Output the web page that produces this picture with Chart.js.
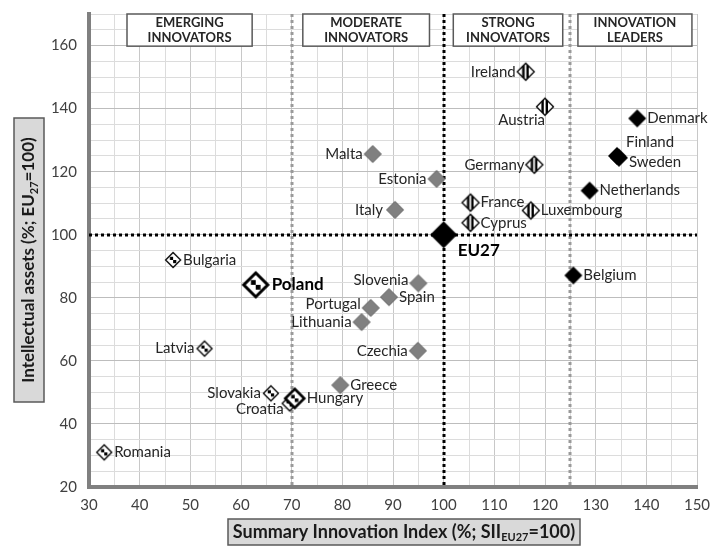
<!DOCTYPE html>
<html>
<head>
<meta charset="utf-8">
<script src="https://cdn.jsdelivr.net/npm/chart.js@4"></script>
<style>
  body { margin: 0; background: #ffffff; }
  #wrap { width: 713px; height: 548px; }
</style>
</head>
<body>
<div id="wrap"><canvas id="grafico" width="713" height="548"></canvas></div>
<script>
// dados
const leaders = ['Denmark', 'Finland', 'Sweden', 'Netherlands', 'Belgium']
const leaders_sii = [138.2, 134.2, 134.6, 128.8, 125.6]
const leaders_ia = [136.9, 125.0, 124.4, 114.0, 87.1]

const strong = ['Ireland', 'Austria', 'Germany', 'France', 'Luxembourg', 'Cyprus']
const strong_sii = [116.2, 120.0, 117.9, 105.3, 117.2, 105.3]
const strong_ia = [151.7, 140.6, 122.2, 110.2, 107.7, 103.8]

const moderate = ['Malta', 'Estonia', 'Italy', 'Slovenia', 'Spain', 'Portugal', 'Lithuania', 'Czechia', 'Greece']
const moderate_sii = [86.0, 98.6, 90.4, 95.0, 89.2, 85.6, 83.8, 94.9, 79.6]
const moderate_ia = [125.6, 117.7, 107.9, 84.6, 80.2, 76.8, 72.3, 63.2, 52.3]

const emerging = ['Bulgaria', 'Poland', 'Latvia', 'Slovakia', 'Croatia', 'Hungary', 'Romania']
const emerging_sii = [46.6, 62.9, 52.8, 65.9, 69.6, 70.6, 33.0]
const emerging_ia = [92.0, 84.1, 63.9, 49.7, 46.5, 48.1, 31.0]

const eu = ['EU27']
const eu_sii = [100]
const eu_ia = [100]

const grupos = [
    ['EMERGING', 'INNOVATORS', 37.5, 62.2],
    ['MODERATE', 'INNOVATORS', 72.2, 97.2],
    ['STRONG', 'INNOVATORS', 101.9, 123.5],
    ['INNOVATION', 'LEADERS', 126.5, 149]
]
const limites_cinza = [70, 125]
const linha_eu = 100

// posicao dos rotulos: lado, dx, dy
const rotulos = {
    Denmark: ['r', 0, 0], Finland: ['r', -1, -14], Sweden: ['r', 0, 4], Netherlands: ['r', 0, 0], Belgium: ['r', 0, 0],
    Ireland: ['l', 0, 0], Austria: ['l', 10, 13], Germany: ['l', 0, 0], France: ['r', 0, 0], Luxembourg: ['r', 0, 0], Cyprus: ['r', 0, 0],
    Malta: ['l', 0, 0], Estonia: ['l', 0, 0], Italy: ['l', -2, 0], Slovenia: ['l', 0, -3], Spain: ['r', 0, 0],
    Portugal: ['l', 0, -4], Lithuania: ['l', 0, 0], Czechia: ['l', 0, 0], Greece: ['r', 0, 0],
    Bulgaria: ['r', 0, 0], Poland: ['r', 2, 0], Latvia: ['l', 0, 0], Slovakia: ['l', 0, 0], Croatia: ['l', 4, 6],
    Hungary: ['r', 2, 0], Romania: ['r', 0, 0], EU27: ['r', 0, 16]
}

const FONTE = 'Lato, "Open Sans", sans-serif'

function losango(ctx, c, r) {
    ctx.beginPath()
    ctx.moveTo(c, c - r)
    ctx.lineTo(c + r, c)
    ctx.lineTo(c, c + r)
    ctx.lineTo(c - r, c)
    ctx.closePath()
}

function novoCanvas(size) {
    const cv = document.createElement('canvas')
    cv.width = size
    cv.height = size
    return cv
}

function marcadorCheio(size, r, cor, borda) {
    const cv = novoCanvas(size)
    const ctx = cv.getContext('2d')
    const c = size / 2
    losango(ctx, c, r)
    ctx.fillStyle = cor
    ctx.fill()
    if (borda) {
        ctx.strokeStyle = borda
        ctx.lineWidth = 1
        ctx.stroke()
    }
    return cv
}

function marcadorListrado(size, r) {
    const cv = novoCanvas(size)
    const ctx = cv.getContext('2d')
    const c = size / 2
    losango(ctx, c, r)
    ctx.fillStyle = '#ffffff'
    ctx.fill()
    ctx.save()
    ctx.clip()
    ctx.fillStyle = '#000000'
    ctx.fillRect(c - 3.6, 0, 2.4, size)
    ctx.fillRect(c + 0.6, 0, 2.4, size)
    ctx.restore()
    losango(ctx, c, r)
    ctx.strokeStyle = '#000000'
    ctx.lineWidth = 1.3
    ctx.stroke()
    return cv
}

function marcadorXadrez(size, r, lw, ri) {
    const cv = novoCanvas(size)
    const ctx = cv.getContext('2d')
    const c = size / 2
    losango(ctx, c, r)
    ctx.fillStyle = '#ffffff'
    ctx.fill()
    ctx.fillStyle = '#000000'
    // quadrantes escuros do centro
    ctx.fillRect(c - ri, c - ri, ri, ri)
    ctx.fillRect(c, c, ri, ri)
    losango(ctx, c, r)
    ctx.strokeStyle = '#000000'
    ctx.lineWidth = lw
    ctx.stroke()
    return cv
}

const m_leader = marcadorCheio(22, 9, '#000000')
const m_eu = marcadorCheio(30, 13.5, '#000000')
const m_moderate = marcadorCheio(22, 8.5, '#808080', '#5f5f5f')
const m_strong = marcadorListrado(22, 8.5)
const m_emerging = marcadorXadrez(20, 7.5, 1.3, 3.2)
const m_poland = marcadorXadrez(30, 12, 3, 4.8)
const m_hungary = marcadorXadrez(24, 9.5, 2.6, 3.6)

function pontos(xs, ys) {
    return xs.map((v, i) => ({ x: v, y: ys[i] }))
}

const data_grafico = {
    datasets: [
        { label: 'Moderate', nomes: moderate, data: pontos(moderate_sii, moderate_ia), pointStyle: m_moderate },
        { label: 'Strong', nomes: strong, data: pontos(strong_sii, strong_ia), pointStyle: m_strong },
        { label: 'Leaders', nomes: leaders, data: pontos(leaders_sii, leaders_ia), pointStyle: m_leader },
        {
            label: 'Emerging', nomes: emerging, data: pontos(emerging_sii, emerging_ia),
            pointStyle: (ctx) => {
                const n = emerging[ctx.dataIndex]
                if (n === 'Poland') return m_poland
                if (n === 'Hungary') return m_hungary
                return m_emerging
            }
        },
        { label: 'EU27', nomes: eu, data: pontos(eu_sii, eu_ia), pointStyle: m_eu }
    ]
}

const fundoPlugin = {
    id: 'fundo',
    beforeDatasetsDraw(chart) {
        const ctx = chart.ctx
        const a = chart.chartArea
        const sx = chart.scales.x
        const sy = chart.scales.y
        ctx.save()
        // linhas tracejadas
        ctx.lineWidth = 3
        ctx.setLineDash([3, 3])
        ctx.strokeStyle = '#9a9a9a'
        limites_cinza.forEach(v => {
            const px = Math.round(sx.getPixelForValue(v))
            ctx.beginPath()
            ctx.moveTo(px, a.top)
            ctx.lineTo(px, a.bottom)
            ctx.stroke()
        })
        ctx.strokeStyle = '#000000'
        const px = Math.round(sx.getPixelForValue(linha_eu))
        ctx.beginPath()
        ctx.moveTo(px, a.top)
        ctx.lineTo(px, a.bottom)
        ctx.stroke()
        const py = Math.round(sy.getPixelForValue(linha_eu))
        ctx.beginPath()
        ctx.moveTo(a.left, py)
        ctx.lineTo(a.right, py)
        ctx.stroke()
        ctx.setLineDash([])
        // caixas dos grupos
        const yt = a.top
        const yb = sy.getPixelForValue(159.8)
        grupos.forEach(g => {
            const x0 = sx.getPixelForValue(g[2])
            const x1 = sx.getPixelForValue(g[3])
            ctx.fillStyle = '#ffffff'
            ctx.fillRect(x0, yt, x1 - x0, yb - yt)
            ctx.strokeStyle = '#595959'
            ctx.lineWidth = 1.5
            ctx.strokeRect(x0, yt, x1 - x0, yb - yt)
            ctx.fillStyle = '#262626'
            ctx.font = 'bold 13px ' + FONTE
            ctx.textAlign = 'center'
            ctx.textBaseline = 'middle'
            const cx = (x0 + x1) / 2
            ctx.fillText(g[0], cx, yt + 9)
            ctx.fillText(g[1], cx, yt + 24)
        })
        ctx.restore()
    },
    afterDatasetsDraw(chart) {
        const ctx = chart.ctx
        ctx.save()
        ctx.textBaseline = 'middle'
        chart.data.datasets.forEach((ds, di) => {
            const meta = chart.getDatasetMeta(di)
            meta.data.forEach((el, i) => {
                const nome = ds.nomes[i]
                const r = rotulos[nome] || ['r', 0, 0]
                const negrito = nome === 'Poland' || nome === 'EU27'
                ctx.font = (negrito ? 'bold 17px ' : '15px ') + FONTE
                ctx.fillStyle = negrito ? '#000000' : '#262626'
                const gap = negrito ? 14 : 10
                if (r[0] === 'l') {
                    ctx.textAlign = 'right'
                    ctx.fillText(nome, el.x - gap + r[1], el.y + r[2])
                } else {
                    ctx.textAlign = 'left'
                    ctx.fillText(nome, el.x + gap + r[1], el.y + r[2])
                }
            })
        })
        ctx.restore()
    },
    afterDraw(chart) {
        const ctx = chart.ctx
        ctx.save()
        // titulo eixo x
        caixaTitulo(ctx, 228, 519, 352, 26, 'Summary Innovation Index (%; SII', 'EU27', '=100)', 18)
        // titulo eixo y
        ctx.translate(29, 260)
        ctx.rotate(-Math.PI / 2)
        caixaTitulo(ctx, -142, -15, 284, 30, 'Intellectual assets (%; EU', '27', '=100)', 17)
        ctx.restore()
    }
}

function caixaTitulo(ctx, x, y, w, h, t1, sub, t2, tam) {
    ctx.fillStyle = '#d9d9d9'
    ctx.fillRect(x, y, w, h)
    ctx.strokeStyle = '#595959'
    ctx.lineWidth = 1.5
    ctx.strokeRect(x, y, w, h)
    const fMain = 'bold ' + tam + 'px ' + FONTE
    const fSub = 'bold 11px ' + FONTE
    ctx.font = fMain
    const w1 = ctx.measureText(t1).width
    const w3 = ctx.measureText(t2).width
    ctx.font = fSub
    const w2 = ctx.measureText(sub).width
    let sx = x + w / 2 - (w1 + w2 + w3) / 2
    const cy = y + h / 2
    ctx.fillStyle = '#1a1a1a'
    ctx.textAlign = 'left'
    ctx.textBaseline = 'middle'
    ctx.font = fMain
    ctx.fillText(t1, sx, cy)
    sx += w1
    ctx.font = fSub
    ctx.fillText(sub, sx, cy + 5)
    sx += w2
    ctx.font = fMain
    ctx.fillText(t2, sx, cy)
}

const config_grafico = {
    type: 'scatter',
    data: data_grafico,
    options: {
        responsive: false,
        animation: false,
        layout: {
            padding: { left: 0, right: 16, top: 14, bottom: 0 }
        },
        plugins: {
            legend: { display: false },
            tooltip: { enabled: false }
        },
        scales: {
            x: {
                type: 'linear',
                min: 30,
                max: 150,
                afterFit: (scale) => {
                    scale.height = 61
                    scale.paddingLeft = 0
                    scale.paddingRight = 0
                },
                border: { color: '#808080', width: 4 },
                grid: {
                    drawTicks: false,
                    color: (ctx) => ctx.tick && ctx.tick.value % 10 === 0 ? '#c8c8c8' : '#dcdcdc',
                    lineWidth: 1
                },
                ticks: {
                    stepSize: 5,
                    autoSkip: false,
                    maxRotation: 0,
                    padding: 9,
                    color: '#404040',
                    font: { size: 15, family: FONTE },
                    callback: (v) => v % 10 === 0 ? v : ''
                }
            },
            y: {
                type: 'linear',
                min: 20,
                max: 170,
                afterFit: (scale) => {
                    scale.width = 89
                    scale.paddingTop = 0
                    scale.paddingBottom = 0
                },
                border: { color: '#808080', width: 4 },
                grid: {
                    drawTicks: false,
                    color: (ctx) => ctx.tick && ctx.tick.value % 20 === 0 ? '#bdbdbd' : '#dcdcdc',
                    lineWidth: 1
                },
                ticks: {
                    stepSize: 5,
                    autoSkip: false,
                    padding: 12,
                    color: '#404040',
                    font: { size: 15, family: FONTE },
                    callback: (v) => (v % 20 === 0 && v <= 160) ? v : ''
                }
            }
        },
        elements: {
            point: { radius: 9, hoverRadius: 9 }
        }
    },
    plugins: [fundoPlugin]
}

const grafico = new Chart(document.querySelector('#grafico'), config_grafico)
</script>
</body>
</html>
